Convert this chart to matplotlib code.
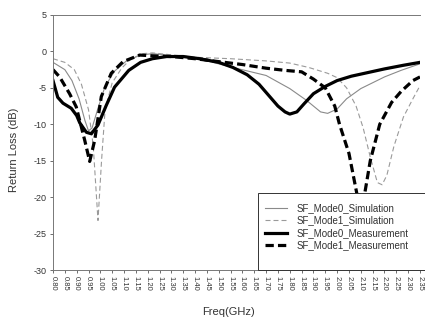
import matplotlib
matplotlib.use("Agg")
import matplotlib.pyplot as plt
from matplotlib.patches import Rectangle

plt.rcParams['font.family'] = ['Liberation Sans', 'DejaVu Sans']

# Return loss of the SF antenna, simulated vs. measured (frequency in GHz, value in dB)
mode0_sim_f = [0.80, 0.85, 0.88, 0.91, 0.935, 0.95, 0.965, 0.99, 1.02, 1.06, 1.11, 1.17, 1.22,
               1.28, 1.36, 1.45, 1.56, 1.70, 1.80, 1.87, 1.93, 1.96, 2.00, 2.04, 2.10, 2.20,
               2.27, 2.35]
mode0_sim_db = [-1.5, -2.5, -4.0, -6.5, -9.5, -10.9, -10.5, -7.8, -4.8, -2.7, -1.3, -0.5, -0.3,
                -0.5, -0.8, -1.3, -2.2, -3.3, -5.1, -6.7, -8.3, -8.5, -7.9, -6.5, -5.1, -3.5,
                -2.6, -1.7]

mode1_sim_f = [0.80, 0.85, 0.89, 0.92, 0.95, 0.97, 0.99, 1.005, 1.02, 1.05, 1.09, 1.13, 1.18,
               1.22, 1.28, 1.40, 1.55, 1.70, 1.80, 1.88, 1.96, 2.00, 2.04, 2.08, 2.11, 2.14,
               2.17, 2.19, 2.21, 2.24, 2.28, 2.32, 2.35]
mode1_sim_db = [-1.0, -1.5, -2.5, -4.5, -8.0, -13.0, -23.2, -15.0, -8.0, -4.3, -2.3, -1.0, -0.3,
                -0.2, -0.4, -0.8, -1.0, -1.3, -1.6, -2.2, -3.0, -3.6, -5.0, -7.5, -10.5, -14.5,
                -18.0, -18.3, -17.0, -13.0, -9.0, -6.5, -4.7]

mode0_meas_f = [0.80, 0.82, 0.842, 0.877, 0.90, 0.913, 0.941, 0.962, 0.99, 1.025, 1.06, 1.12,
                1.17, 1.22, 1.28, 1.35, 1.42, 1.50, 1.56, 1.62, 1.67, 1.71, 1.75, 1.78, 1.80,
                1.83, 1.86, 1.90, 1.95, 2.00, 2.06, 2.13, 2.20, 2.28, 2.35]
mode0_meas_db = [-4.0, -6.3, -7.1, -7.8, -8.8, -9.8, -11.1, -11.3, -10.1, -7.4, -4.9, -2.6,
                 -1.5, -1.0, -0.7, -0.7, -1.0, -1.5, -2.2, -3.2, -4.5, -6.0, -7.5, -8.3, -8.6,
                 -8.3, -7.2, -5.8, -4.8, -4.0, -3.4, -2.9, -2.4, -1.9, -1.5]

mode1_meas_f = [0.80, 0.828, 0.87, 0.898, 0.934, 0.955, 0.976, 1.004, 1.046, 1.096, 1.166,
                1.22, 1.30, 1.40, 1.50, 1.60, 1.70, 1.78, 1.85, 1.90, 1.95, 1.99, 2.01, 2.05,
                2.085, 2.10, 2.115, 2.14, 2.18, 2.23, 2.27, 2.32, 2.35]
mode1_meas_db = [-2.5, -3.5, -5.8, -7.6, -12.2, -15.1, -12.2, -6.2, -3.0, -1.4, -0.5,
                 -0.6, -0.7, -1.0, -1.4, -1.8, -2.3, -2.6, -2.8, -3.8, -5.0, -7.5, -10.0, -14.0,
                 -19.8, -21.5, -19.8, -15.0, -10.0, -7.0, -5.5, -4.0, -3.5]

freq_ticks = [0.80, 0.85, 0.90, 0.95, 1.00, 1.05, 1.10, 1.15, 1.20, 1.25, 1.30, 1.35, 1.40,
              1.45, 1.50, 1.55, 1.60, 1.65, 1.70, 1.75, 1.80, 1.85, 1.90, 1.95, 2.00, 2.05,
              2.10, 2.15, 2.20, 2.25, 2.30, 2.35]
db_ticks = [5, 0, -5, -10, -15, -20, -25, -30]

fig = plt.figure(figsize=(4.25, 3.22), dpi=100)
ax = fig.add_axes([53 / 425, 1 - 270 / 322, 367 / 425, 255 / 322])

ax.plot(mode0_sim_f, mode0_sim_db, color='#8a8a8a', lw=0.8, label='SF_Mode0_Simulation')
ax.plot(mode1_sim_f, mode1_sim_db, color='#9a9a9a', lw=0.8, dashes=(4.5, 2.7),
        label='SF_Mode1_Simulation')
ax.plot(mode0_meas_f, mode0_meas_db, color='black', lw=2.3, label='SF_Mode0_Measurement')
ax.plot(mode1_meas_f, mode1_meas_db, color='black', lw=2.3, dashes=(2.6, 1.3),
        label='SF_Mode1_Measurement')

ax.set_xlim(freq_ticks[0], freq_ticks[-1])
ax.set_ylim(-30, 5)
ax.set_xticks(freq_ticks)
ax.set_xticklabels([f"{v:.2f}" for v in freq_ticks], rotation=-90, fontsize=5.5)
ax.set_yticks(db_ticks)
ax.set_yticklabels([str(v) for v in db_ticks], fontsize=6.5)
ax.tick_params(axis='both', direction='out', length=2.5, width=0.6, colors='#555555',
               labelcolor='#333333', pad=2)

ax.spines['right'].set_visible(False)
for side in ('left', 'bottom', 'top'):
    ax.spines[side].set_color('#777777')
    ax.spines[side].set_linewidth(0.7)

ax.set_ylabel('Return Loss (dB)', fontsize=8, color='#333333')
ax.yaxis.set_label_coords(-0.093, 0.47)
ax.set_xlabel('Freq(GHz)', fontsize=8, color='#333333')
ax.xaxis.set_label_coords(0.477, -0.145)

# legend box sits on the lower right corner and hides the curves beneath it
box = Rectangle((0.559, 0.0), 0.4546, 0.302, transform=ax.transAxes, facecolor='white',
                edgecolor='#333333', lw=0.7, zorder=4, clip_on=False)
ax.add_patch(box)
leg = ax.legend(loc='upper left', bbox_to_anchor=(0.578, 0.262), fontsize=7, frameon=False,
                borderaxespad=0, borderpad=0, handlelength=2.26, handletextpad=1.0,
                labelspacing=0.25)
leg.set_zorder(5)
for t in leg.get_texts():
    t.set_color('#333333')

fig.savefig('out.png', dpi=100)
